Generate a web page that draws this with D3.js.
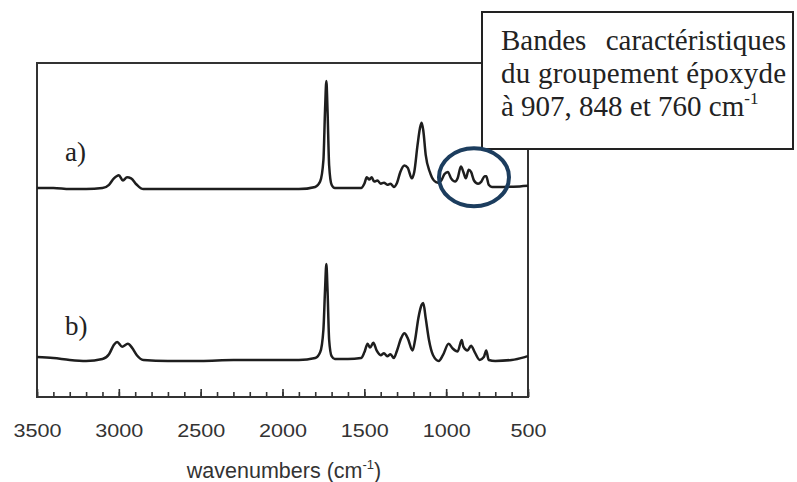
<!DOCTYPE html>
<html>
<head>
<meta charset="utf-8">
<script src="https://cdn.jsdelivr.net/npm/d3@7"></script>
<style>
  body { margin: 0; background: #fff; }
  svg { display: block; }
</style>
</head>
<body>
<div id="chart"></div>
<script>
// Spectres IR (absorbance relative, pic C=O = 1)
const wnA = [3500,3400,3300,3200,3100,3060,3030,3000,2975,2950,2925,2890,2850,2700,2500,2300,2100,1900,1800,1770,1750,1740,1732,1725,1715,1700,1680,1600,1520,1500,1485,1470,1455,1440,1420,1400,1380,1360,1340,1320,1300,1280,1255,1235,1210,1195,1175,1160,1150,1140,1125,1100,1075,1050,1030,1010,990,970,945,930,910,895,880,862,848,830,805,785,765,755,740,720,650,550,500];
const absA = [0,0,-0.01,-0.01,0,0.03,0.09,0.12,0.07,0.10,0.09,0.03,-0.01,-0.01,-0.01,-0.01,-0.01,-0.01,0.01,0.06,0.26,0.73,1.0,0.73,0.21,0.03,0,0,0,0.04,0.10,0.08,0.10,0.06,0.07,0.04,0.05,0.03,0.04,0.01,0.05,0.15,0.21,0.19,0.09,0.15,0.40,0.56,0.61,0.54,0.31,0.15,0.07,0.05,0.07,0.13,0.15,0.09,0.06,0.09,0.20,0.15,0.09,0.17,0.15,0.07,0.04,0.06,0.11,0.11,0.03,0.01,0.01,0.015,0.02];

const wnB = [3500,3400,3300,3200,3100,3060,3030,3010,2980,2945,2920,2890,2850,2700,2500,2300,2100,1900,1800,1770,1750,1740,1732,1725,1715,1700,1680,1600,1520,1500,1480,1465,1445,1425,1400,1380,1360,1340,1320,1300,1275,1255,1235,1205,1190,1170,1150,1140,1125,1105,1080,1045,1020,985,960,930,905,895,870,848,825,795,770,755,740,700,600,520,500];
const absB = [0.02,0.01,-0.01,-0.02,0,0.05,0.15,0.18,0.13,0.16,0.12,0.04,-0.01,-0.02,-0.02,-0.01,-0.01,-0.01,0.01,0.07,0.31,0.73,1.0,0.73,0.2,0.03,0,0,0.01,0.07,0.16,0.12,0.17,0.09,0.04,0.06,0.03,0.05,0.01,0.09,0.22,0.27,0.22,0.09,0.2,0.43,0.57,0.59,0.43,0.2,0.04,-0.02,0.04,0.16,0.11,0.08,0.2,0.13,0.09,0.14,0.07,-0.01,0.02,0.09,-0.01,-0.02,-0.01,0.02,0.03];

const tickLabels = [3500, 3000, 2500, 2000, 1500, 1000, 500];
const minorTicks = d3.range(500, 3501, 100);
const panelLabels = ["a)", "b)"];
const boxLines = ["Bandes", "caractéristiques", "du groupement époxyde", "à 907, 848 et 760 cm"];
const circleWn = 830; // centre de l'ellipse (zone époxyde)

const W = 797, H = 482;
const svg = d3.select("#chart").append("svg")
    .attr("width", W).attr("height", H);

// échelles
const x = d3.scaleLinear().domain([3500, 500]).range([37, 528]);
const yA = d3.scaleLinear().domain([0, 1]).range([188, 81]);
const yB = d3.scaleLinear().domain([0, 1]).range([359, 264]);
const plotTop = 63, plotBottom = 397;

// cadre
svg.append("rect")
    .attr("x", x(3500)).attr("y", plotTop)
    .attr("width", x(500) - x(3500)).attr("height", plotBottom - plotTop)
    .attr("fill", "none").attr("stroke", "#333").attr("stroke-width", 2);

// axe X : graduations mineures puis majeures (vers l'intérieur)
const axisG = svg.append("g").attr("transform", `translate(0,${plotBottom})`);
axisG.append("g")
    .call(d3.axisBottom(x).tickValues(minorTicks).tickSize(-5).tickFormat(""))
    .call(g => g.select(".domain").remove());
axisG.append("g")
    .call(d3.axisBottom(x).tickValues(tickLabels).tickSize(-8).tickPadding(27).tickFormat(d3.format("d")))
    .call(g => g.select(".domain").remove());
axisG.selectAll(".tick line").attr("stroke", "#333").attr("stroke-width", 1.6);
axisG.selectAll(".tick text")
    .attr("fill", "#333")
    .style("font-family", "'Liberation Sans', Arial, sans-serif")
    .style("font-size", "18px")
    .attr("transform", "scale(1.2,1)");

// titre axe X
const title = svg.append("text")
    .attr("x", 284).attr("y", 478)
    .attr("text-anchor", "middle")
    .attr("fill", "#333")
    .style("font-family", "'Liberation Sans', Arial, sans-serif")
    .style("font-size", "21.5px");
title.append("tspan").text("wavenumbers (cm");
title.append("tspan").attr("dy", -9).style("font-size", "13px").text("-1");
title.append("tspan").attr("dy", 9).text(")");

// spectres
const line = (ys) => d3.line()
    .x(d => x(d[0])).y(d => ys(d[1]))
    .curve(d3.curveMonotoneX);

[[wnA, absA, yA], [wnB, absB, yB]].forEach(([wn, ab, ys]) => {
    svg.append("path")
        .datum(wn.map((w, i) => [w, ab[i]]))
        .attr("d", line(ys))
        .attr("fill", "none")
        .attr("stroke", "#1e1e1e")
        .attr("stroke-width", 2.5)
        .attr("stroke-linejoin", "round");
});

// étiquettes a) b)
const serif = "'Liberation Serif', 'Times New Roman', serif";
svg.selectAll(".plabel").data(panelLabels).enter().append("text")
    .attr("class", "plabel")
    .attr("x", 65)
    .attr("y", (d, i) => i === 0 ? 161 : 335)
    .attr("fill", "#222")
    .style("font-family", serif)
    .style("font-size", "27px")
    .text(d => d);

// encadré
const box = svg.append("g");
box.append("rect")
    .attr("x", 482).attr("y", 12).attr("width", 311).attr("height", 137)
    .attr("fill", "#fff").attr("stroke", "#222").attr("stroke-width", 2);
const bt = (txt, xx, yy, anchor) => box.append("text")
    .attr("x", xx).attr("y", yy).attr("text-anchor", anchor)
    .attr("fill", "#222")
    .style("font-family", serif).style("font-size", "29px")
    .text(txt);
bt(boxLines[0], 501, 50, "start");
bt(boxLines[1], 786, 50, "end");
bt(boxLines[2], 501, 83, "start").attr("textLength", 285).attr("lengthAdjust", "spacing");
const l3 = bt("", 501, 116, "start");
l3.append("tspan").text(boxLines[3]);
l3.append("tspan").attr("dy", -12).style("font-size", "17px").text("-1");

// ellipse autour des bandes époxyde
svg.append("ellipse")
    .attr("cx", x(circleWn)).attr("cy", yA(0.1))
    .attr("rx", 35).attr("ry", 29)
    .attr("fill", "none").attr("stroke", "#1c3d5e").attr("stroke-width", 4);
</script>
</body>
</html>
